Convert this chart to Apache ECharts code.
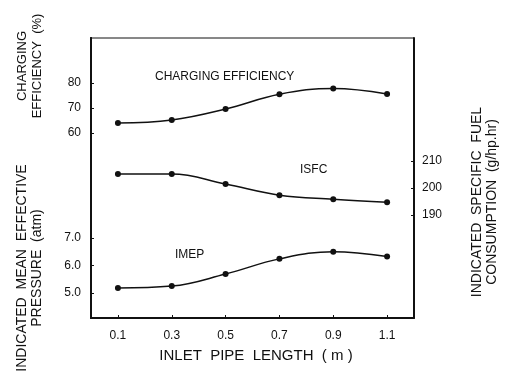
<!DOCTYPE html>
<html>
<head>
<meta charset="utf-8">
<script src="https://cdn.jsdelivr.net/npm/echarts@6/dist/echarts.min.js"></script>
<style>
  html, body { margin: 0; padding: 0; background: #fff; }
  #chart { width: 512px; height: 380px; }
</style>
</head>
<body>
<div id="chart"></div>
<script>
const pipeLength = [0.1, 0.3, 0.5, 0.7, 0.9, 1.1];
const chargingEff = [64, 65.2, 69.6, 75.5, 77.8, 75.6];
const isfc = [205.2, 205.2, 201.5, 197.4, 195.9, 194.8];
const imep = [5.18, 5.25, 5.69, 6.24, 6.5, 6.33];

const effTicks = [60, 70, 80];
const imepTicks = [5, 6, 7];
const isfcTicks = [190, 200, 210];

const font = "'Liberation Sans', Arial, sans-serif";
const ink = "#111";

const toPairs = (ys) => pipeLength.map((x, i) => [x, ys[i]]);

const chart = echarts.init(document.getElementById("chart"));

const yBase = {
  type: "value",
  splitLine: { show: false },
  axisLine: { show: true, onZero: false, lineStyle: { color: ink, width: 2 } },
  axisTick: { show: true, inside: true, length: 3, lineStyle: { color: ink } },
  axisLabel: { color: ink, fontFamily: font, fontSize: 12 },
};

const lineSeries = (name, data, yIndex) => ({
  name: name,
  type: "line",
  yAxisIndex: yIndex,
  data: toPairs(data),
  smooth: 0.4,
  symbol: "circle",
  symbolSize: 6,
  itemStyle: { color: ink },
  lineStyle: { color: ink, width: 1.5 },
  silent: true,
});

const option = {
  animation: false,
  backgroundColor: "#fff",
  grid: {
    left: 91,
    right: 98,
    top: 38,
    bottom: 62,
    show: true,
    borderColor: ink,
    borderWidth: 1,
  },
  xAxis: {
    type: "value",
    min: 0,
    max: 1.2,
    splitLine: { show: false },
    axisLine: { onZero: false, lineStyle: { color: ink, width: 2 } },
    axisTick: { inside: true, length: 3, customValues: pipeLength, lineStyle: { color: ink } },
    axisLabel: {
      customValues: pipeLength,
      color: ink,
      fontFamily: font,
      fontSize: 12,
      margin: 12,
      formatter: (v) => v.toFixed(1),
    },
  },
  yAxis: [
    {
      ...yBase,
      position: "left",
      min: -14,
      max: 98,
      axisTick: { ...yBase.axisTick, customValues: effTicks },
      axisLabel: { ...yBase.axisLabel, customValues: effTicks, margin: 10 },
    },
    {
      ...yBase,
      position: "left",
      min: 4.09,
      max: 14.27,
      axisTick: { ...yBase.axisTick, customValues: imepTicks },
      axisLabel: {
        ...yBase.axisLabel,
        customValues: imepTicks,
        margin: 10,
        formatter: (v) => v.toFixed(1),
      },
    },
    {
      ...yBase,
      position: "right",
      min: 151.9,
      max: 255.6,
      axisTick: { ...yBase.axisTick, customValues: isfcTicks },
      axisLabel: { ...yBase.axisLabel, customValues: isfcTicks, margin: 8 },
    },
  ],
  series: [
    lineSeries("CHARGING EFFICIENCY", chargingEff, 0),
    lineSeries("IMEP", imep, 1),
    lineSeries("ISFC", isfc, 2),
  ],
  graphic: [
    { type: "text", left: 155, top: 71, style: { text: "CHARGING EFFICIENCY", font: "12px " + font, fill: ink } },
    { type: "text", left: 300, top: 164, style: { text: "ISFC", font: "12px " + font, fill: ink } },
    { type: "text", left: 175, top: 249, style: { text: "IMEP", font: "12px " + font, fill: ink } },
    {
      type: "text",
      x: 30,
      y: 66,
      rotation: Math.PI / 2,
      style: {
        text: "CHARGING\nEFFICIENCY  (%)",
        font: "13px " + font,
        fill: ink,
        align: "center",
        verticalAlign: "middle",
        lineHeight: 15,
      },
    },
    {
      type: "text",
      x: 30,
      y: 268,
      rotation: Math.PI / 2,
      style: {
        text: "INDICATED  MEAN  EFFECTIVE\nPRESSURE  (atm)",
        font: "14px " + font,
        fill: ink,
        align: "center",
        verticalAlign: "middle",
        lineHeight: 15,
      },
    },
    {
      type: "text",
      x: 485,
      y: 202,
      rotation: Math.PI / 2,
      style: {
        text: "INDICATED  SPECIFIC  FUEL\nCONSUMPTION  (g/hp.hr)",
        font: "14px " + font,
        fill: ink,
        align: "center",
        verticalAlign: "middle",
        lineHeight: 15,
      },
    },
    {
      type: "text",
      x: 256,
      y: 356,
      style: {
        text: "INLET  PIPE  LENGTH  ( m )",
        font: "15px " + font,
        fill: ink,
        align: "center",
        verticalAlign: "middle",
      },
    },
  ],
};

chart.setOption(option);
window.addEventListener("resize", () => chart.resize());
</script>
</body>
</html>
